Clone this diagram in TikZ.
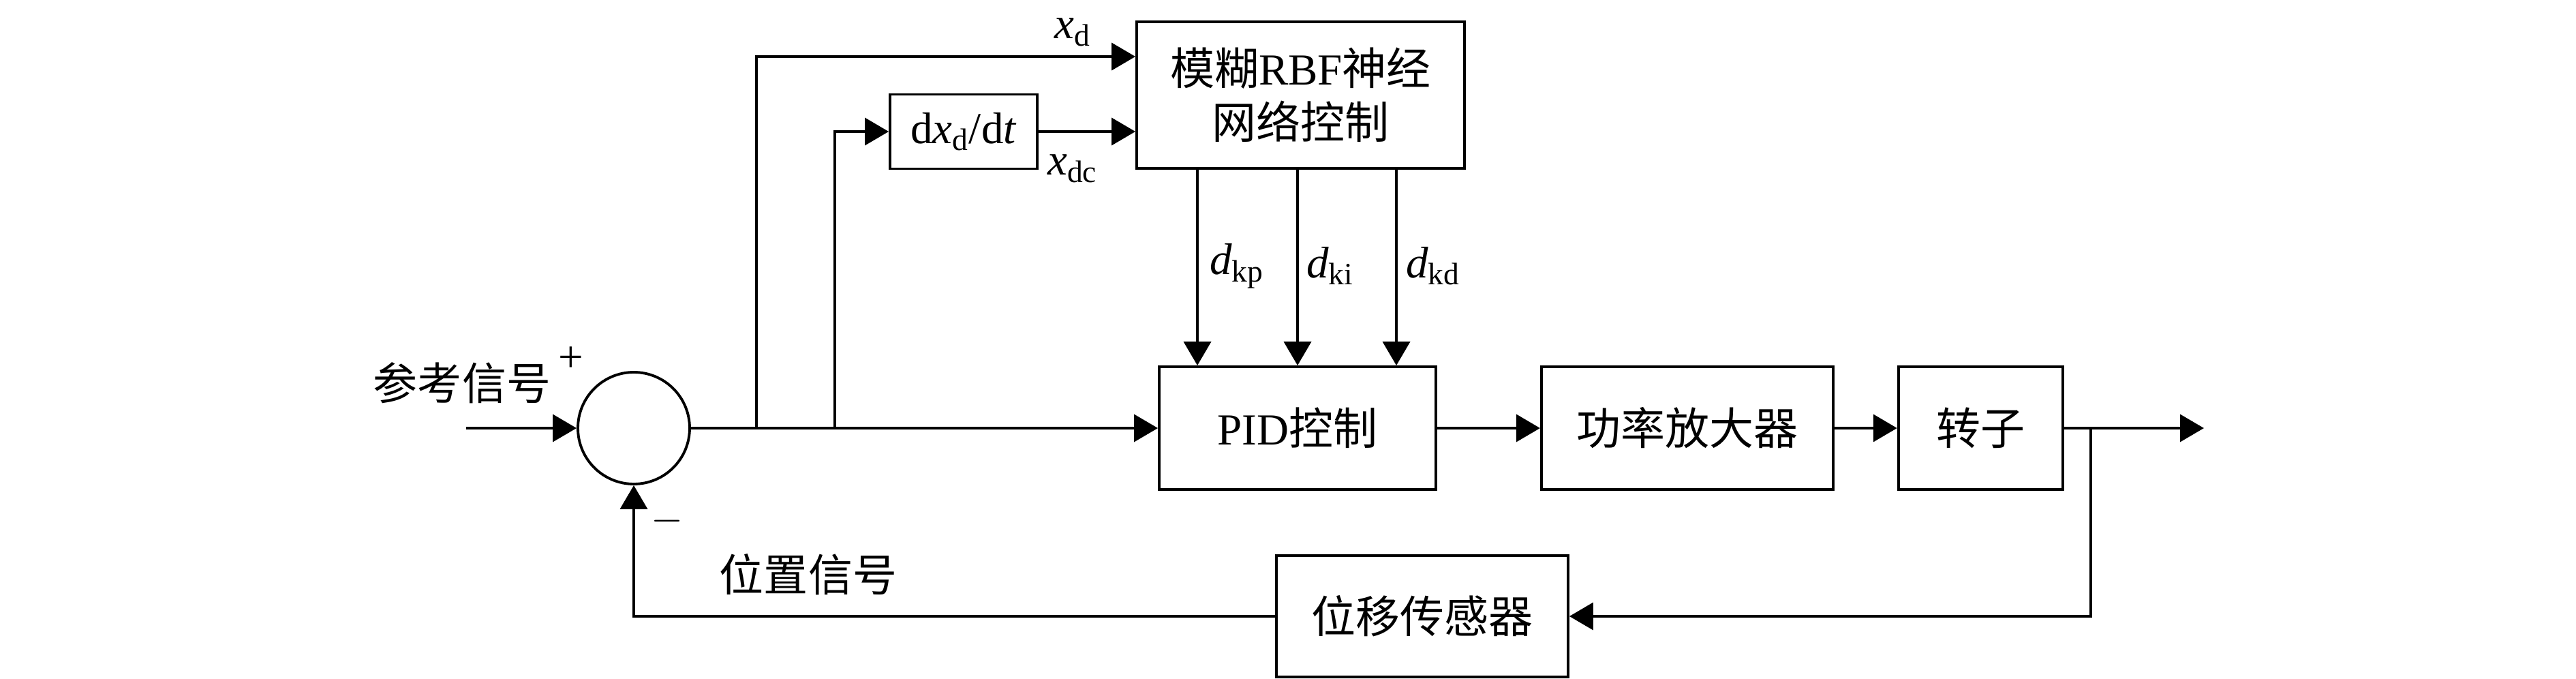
\documentclass[tikz,border=0pt]{standalone}
\usepackage{fontspec}
\setmainfont{Liberation Serif}
\newfontfamily\cjk{Noto Sans CJK SC}
\usetikzlibrary{positioning,arrows.meta}

\begin{document}
\begin{tikzpicture}[
node distance=1.51cm and 0.92cm,
every node/.style={font=\fontsize{18.5}{22.5}\selectfont},
line width=1.1pt,
>={Triangle[length=0.35cm,width=0.4cm]},
box/.style={draw, align=center, minimum height=1.8cm, inner sep=0pt},
sumnode/.style={draw, circle, minimum size=1.64cm, inner sep=0pt}
]
\useasboundingbox (0,0) rectangle (37.8,9.95);
% blocks
\node[sumnode] (sum) at (9.30,3.67) {};
\node[box, minimum width=4.06cm] (pid) at (19.04,3.67) {PID{\cjk 控制}};
\node[box, minimum width=4.28cm, right=1.51cm of pid] (amp) {{\cjk 功率放大器}};
\node[box, minimum width=2.41cm, right=0.92cm of amp] (rotor) {{\cjk 转子}};
\node[box, minimum width=4.28cm, minimum height=1.78cm] (sensor) at (20.87,0.91) {{\cjk 位移传感器}};
\node[box, minimum width=4.81cm, minimum height=2.15cm] (fuzzy) at (19.085,8.555) {{\cjk 模糊}RBF{\cjk 神经}\\{\cjk 网络控制}};
\node[box, minimum width=2.16cm, minimum height=1.09cm] (deriv) at (14.14,8.02) {d\textit{x}\textsubscript{d}/d\textit{t}};
% ends and branch points
\coordinate (in) at (6.84,3.67);
\coordinate (out) at (32.34,3.67);
\coordinate (tap) at (30.68,3.67);
\coordinate (b1) at (11.10,3.67);
\coordinate (b2) at (12.25,3.67);
% signals
\draw[->] (in) -- (sum);
\draw[->] (sum) -- (pid);
\draw[->] (b1) |- ([yshift=0.565cm]fuzzy.west);
\draw[->] (b2) |- (deriv);
\draw[->] (deriv) -- (deriv -| fuzzy.west);
\foreach \dx in {-1.47,0,1.45}
  \draw[->] ([xshift=\dx cm]pid.north |- fuzzy.south) -- ([xshift=\dx cm]pid.north);
\draw[->] (pid) -- (amp);
\draw[->] (amp) -- (rotor);
\draw[->] (rotor) -- (out);
\draw[->] (tap) |- (sensor);
\draw[->] (sensor) -| (sum);
% labels
\node (ref) at (6.78,4.33) {{\cjk 参考信号}};
\node (plus) at (8.38,4.68) {+};
\node (minus) at (9.79,2.31) {$-$};
\node (pos) at (11.86,1.52) {{\cjk 位置信号}};
\node (xd) at (15.74,9.48) {\textit{x}\textsubscript{d}};
\node (xdc) at (15.74,7.48) {\textit{x}\textsubscript{dc}};
\node (dkp) at (18.15,6.05) {\textit{d}\textsubscript{kp}};
\node (dki) at (19.52,6.05) {\textit{d}\textsubscript{ki}};
\node (dkd) at (21.03,6.05) {\textit{d}\textsubscript{kd}};
\end{tikzpicture}
\end{document}
